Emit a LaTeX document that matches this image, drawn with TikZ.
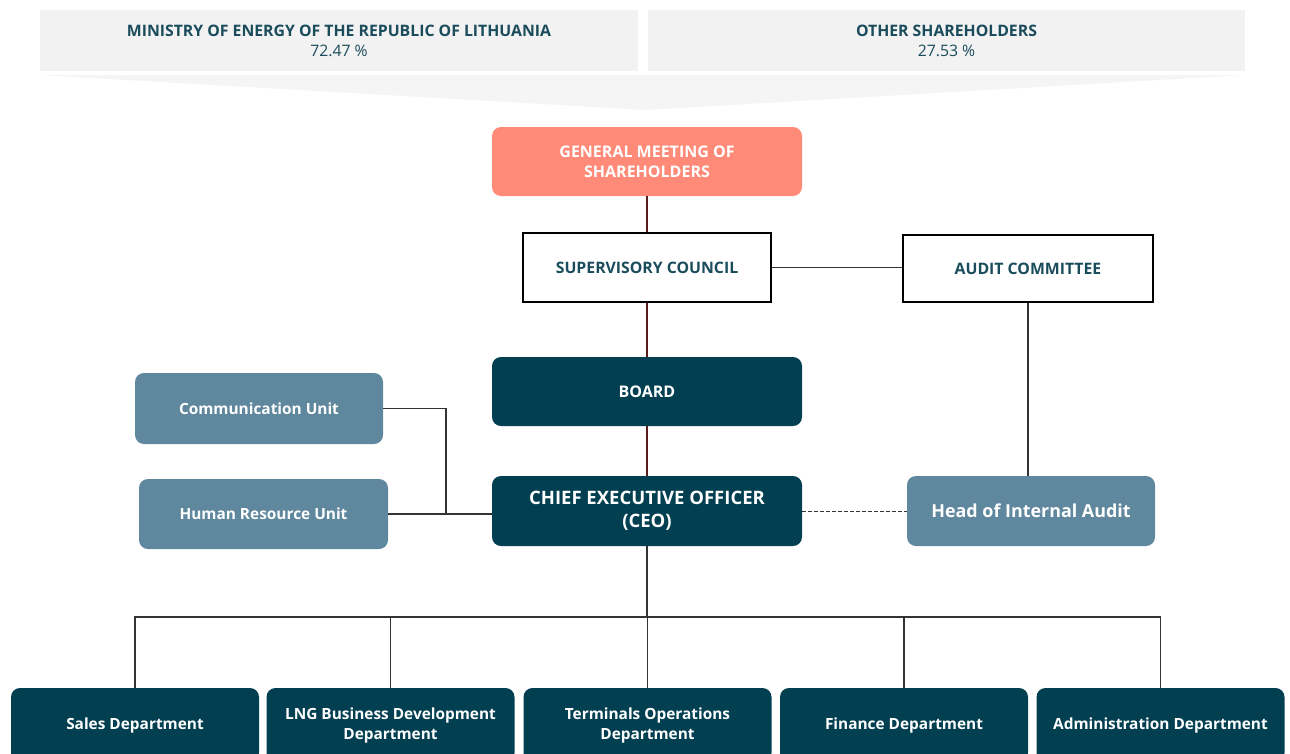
\documentclass[tikz,border=0pt]{standalone}
\usepackage{fontspec}
\setmainfont{Open Sans}
\definecolor{bannergray}{HTML}{F2F2F2}
\definecolor{tealtext}{HTML}{1A4C5C}
\definecolor{salmon}{HTML}{FF8A78}
\definecolor{darkteal}{HTML}{023F51}
\definecolor{midblue}{HTML}{5F879D}
\definecolor{maroon}{HTML}{5A1C1C}
\definecolor{linegray}{HTML}{333333}
\begin{document}
\begin{tikzpicture}[x=1pt,y=-1pt,
  banner/.style={fill=bannergray, minimum height=61pt, inner sep=0pt, align=center, text=tealtext, font=\fontsize{15.8}{20}\selectfont},
  filled/.style={rounded corners=9pt, inner sep=0pt, align=center, text=white, font=\fontsize{15.4}{20}\selectfont\bfseries},
  outlined/.style={draw=black, line width=2pt, fill=white, inner sep=0pt, align=center, text=tealtext, font=\fontsize{15.8}{20}\selectfont\bfseries},
  dept/.style={filled, fill=darkteal, minimum width=248pt, minimum height=74pt},
  conn/.style={draw=linegray, line width=1.2pt},
  spine/.style={draw=maroon, line width=1.2pt}]
\useasboundingbox (0,0) rectangle (1290,753);
% shareholders banner
\fill[bannergray!80!white] (40,75) -- (1245,75) -- (645,110) -- cycle;
\node[banner, minimum width=598pt] (ban1) at (339,40.5) {{\bfseries MINISTRY OF ENERGY OF THE REPUBLIC OF LITHUANIA}\\72.47 \%};
\node[banner, minimum width=597pt] (ban2) at (946.5,40.5) {{\bfseries OTHER SHAREHOLDERS}\\27.53 \%};
% governance
\node[filled, fill=salmon, minimum width=310pt, minimum height=69pt, font=\fontsize{16}{20}\selectfont\bfseries] (gms) at (647,161.5) {GENERAL MEETING OF\\SHAREHOLDERS};
\node[outlined, minimum width=248pt, minimum height=69pt] (sc) at (647,267.5) {SUPERVISORY COUNCIL};
\node[outlined, minimum width=250pt, minimum height=67pt] (ac) at (1028,268.5) {AUDIT COMMITTEE};
\node[filled, fill=darkteal, minimum width=310pt, minimum height=69pt, font=\fontsize{16}{20}\selectfont\bfseries] (board) at (647,391.5) {BOARD};
\node[filled, fill=darkteal, minimum width=310pt, minimum height=70pt, font=\fontsize{18.5}{23}\selectfont\bfseries] (ceo) at (647,511) {CHIEF EXECUTIVE OFFICER\\(CEO)};
\node[filled, fill=midblue, minimum width=248pt, minimum height=71pt] (comm) at (259,408.5) {Communication Unit};
\node[filled, fill=midblue, minimum width=249pt, minimum height=70pt] (hr) at (263.5,514) {Human Resource Unit};
\node[filled, fill=midblue, minimum width=248pt, minimum height=70pt, font=\fontsize{17.9}{24}\selectfont\bfseries] (hia) at (1031,511) {Head of Internal Audit};
% departments
\node[dept] (sales) at (135,725) {Sales Department};
\node[dept] (lng) at (390.5,725) {LNG Business Development\\Department};
\node[dept] (term) at (647.5,725) {Terminals Operations\\Department};
\node[dept] (fin) at (904,725) {Finance Department};
\node[dept] (admin) at (1160.5,725) {Administration Department};
% connectors
\draw[spine] (gms.south) -- (sc.north);
\draw[spine] (sc.south) -- (board.north);
\draw[spine] (board.south) -- (ceo.north);
\draw[conn] (sc.east) -- (ac.west |- sc.east);
\draw[conn] (ac.south) -- (hia.north -| ac.south);
\draw[conn, line width=1pt, dash pattern=on 4pt off 2pt] (ceo.east) -- (hia.west);
\coordinate (j) at (446,515);
\draw[conn] (comm.east) -| (j);
\draw[conn] (hr.east) -- (hr.east -| ceo.west);
\coordinate (bus) at (648,617);
\draw[conn] (ceo.south) -- (ceo.south |- bus);
\draw[conn] (sales.north) -- (sales.north |- bus) -- (admin.north |- bus) -- (admin.north);
\draw[conn] (lng.north) -- (lng.north |- bus);
\draw[conn] (term.north) -- (term.north |- bus);
\draw[conn] (fin.north) -- (fin.north |- bus);
\end{tikzpicture}
\end{document}
